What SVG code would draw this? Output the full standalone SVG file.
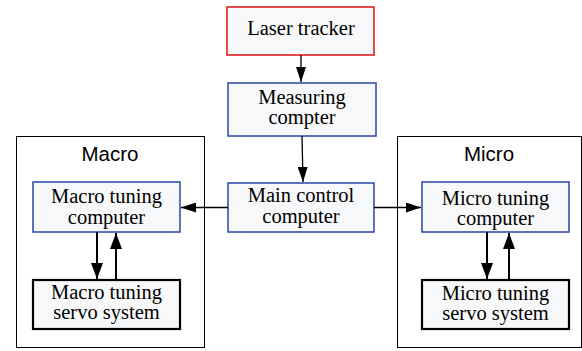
<svg xmlns="http://www.w3.org/2000/svg" width="582" height="351" viewBox="0 0 582 351">
<defs>
<style>
.cl{fill:#fff;stroke:#000;stroke-width:1}
.cll{font-family:"Liberation Sans",Arial,sans-serif;font-size:20.5px;text-anchor:middle;fill:#000}
.n{fill:#f7f8fa;stroke:#3650a8;stroke-width:1.6}
.red{stroke:#e02020}
.blk{stroke:#000;stroke-width:2.2}
.t{font-family:"Liberation Serif","Times New Roman",serif;font-size:20.5px;text-anchor:middle;fill:#000}
.e{stroke:#000;stroke-width:1.3;fill:none}
.e2{stroke:#000;stroke-width:2;fill:none}
</style>
<marker id="a" viewBox="0 0 15 10" refX="15" refY="5" markerWidth="15" markerHeight="10" markerUnits="userSpaceOnUse" orient="auto"><path d="M0,0 L15,5 L0,10 z" fill="#000"/></marker>
<marker id="b" viewBox="0 0 16 12" refX="16" refY="6" markerWidth="16" markerHeight="12" markerUnits="userSpaceOnUse" orient="auto"><path d="M0,0 L16,6 L0,12 z" fill="#000"/></marker>
</defs>
<g id="cluster-macro">
<rect class="cl" x="16.5" y="136.5" width="188" height="211"/>
<text class="cll" x="110" y="161">Macro</text>
</g>
<g id="cluster-micro">
<rect class="cl" x="397.5" y="136.5" width="184" height="211"/>
<text class="cll" x="489" y="161">Micro</text>
</g>
<g id="laser-tracker">
<rect class="n red" x="227" y="7" width="147" height="48"/>
<text class="t" x="301" y="35">Laser tracker</text>
</g>
<g id="measuring-compter">
<rect class="n" x="228" y="83" width="148" height="53"/>
<text class="t" x="302" y="103.5">Measuring</text>
<text class="t" x="302" y="124">compter</text>
</g>
<g id="main-control-computer">
<rect class="n" x="228" y="183" width="146" height="49"/>
<text class="t" x="301" y="201.5">Main control</text>
<text class="t" x="301" y="222.5">computer</text>
</g>
<g id="macro-tuning-computer">
<rect class="n" x="33" y="182" width="147" height="50"/>
<text class="t" x="106.5" y="203">Macro tuning</text>
<text class="t" x="106.5" y="223.5">computer</text>
</g>
<g id="macro-tuning-servo">
<rect class="n blk" x="33" y="280" width="147" height="49"/>
<text class="t" x="106.5" y="298.5">Macro tuning</text>
<text class="t" x="106.5" y="319">servo system</text>
</g>
<g id="micro-tuning-computer">
<rect class="n" x="422" y="182" width="147" height="50"/>
<text class="t" x="495.5" y="204.5">Micro tuning</text>
<text class="t" x="495.5" y="225">computer</text>
</g>
<g id="micro-tuning-servo">
<rect class="n blk" x="422" y="280" width="147" height="49"/>
<text class="t" x="495.5" y="299.5">Micro tuning</text>
<text class="t" x="495.5" y="320">servo system</text>
</g>
<g id="connectors">
<line class="e" x1="301" y1="55" x2="301" y2="82" marker-end="url(#a)"/>
<line class="e" x1="302" y1="136" x2="303" y2="182" marker-end="url(#a)"/>
<line class="e" x1="228" y1="207.5" x2="181" y2="207.5" marker-end="url(#a)"/>
<line class="e" x1="374" y1="207.5" x2="421" y2="207.5" marker-end="url(#a)"/>
<line class="e2" x1="97" y1="232" x2="97" y2="279" marker-end="url(#b)"/>
<line class="e2" x1="116" y1="280" x2="116" y2="233" marker-end="url(#b)"/>
<line class="e2" x1="487" y1="232" x2="487" y2="279" marker-end="url(#b)"/>
<line class="e2" x1="509" y1="280" x2="509" y2="233" marker-end="url(#b)"/>
</g>
</svg>
